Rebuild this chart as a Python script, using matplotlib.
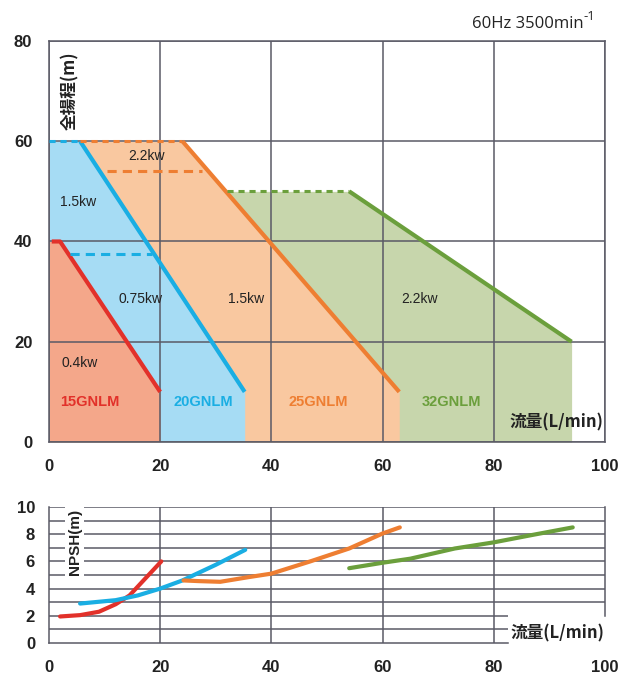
"""Performance range and NPSH chart for GNLM pumps (60Hz)."""

import matplotlib
matplotlib.use('Agg')
import matplotlib.pyplot as plt

# ---- data -------------------------------------------------------------
models = ['15GNLM', '20GNLM', '25GNLM', '32GNLM']
shut_q = [2.0, 5.6, 24.0, 54.0]      # flow where flat top ends (L/min)
shut_h = [40, 60, 60, 50]            # max head (m)
max_q = [20.0, 35.2, 63.0, 94.0]     # max flow (L/min)
end_h = [10, 10, 10, 20]             # head at max flow (m)
top_dash_q = [None, 0.0, 5.6, 32.0]  # dashed part of flat top starts here

# motor split lines inside ranges (head, q from, q to)
split_h = [37.5, 54.0]
split_q0 = [3.8, 10.5]
split_q1 = [18.5, 27.5]

kw_text = ['0.4kw', '1.5kw', '0.75kw', '2.2kw', '1.5kw', '2.2kw']

# NPSH curves
npsh_q15 = [2, 5.6, 9, 12, 14.5, 17, 20.2]
npsh_h15 = [1.95, 2.05, 2.3, 2.85, 3.5, 4.6, 6.0]
npsh_q20 = [5.6, 12, 16, 20, 24, 30, 35.3]
npsh_h20 = [2.9, 3.15, 3.5, 4.0, 4.6, 5.75, 6.85]
npsh_q25 = [24.2, 27, 30.8, 36, 40, 47, 54, 60, 63.1]
npsh_h25 = [4.6, 4.55, 4.5, 4.85, 5.1, 6.0, 6.95, 8.05, 8.5]
npsh_q32 = [54, 60, 65, 73, 80, 87, 94.2]
npsh_h32 = [5.5, 5.9, 6.2, 6.95, 7.4, 7.95, 8.5]

# ---- style ------------------------------------------------------------
LINE_C = ['#e2312a', '#1aaee3', '#ee7e32', '#6b9f3c']
FILL_C = ['#f4a78a', '#a6dcf4', '#f9c8a0', '#c7d6ac']
GRID_C = '#5a5a66'
CJK = ['Noto Sans CJK JP', 'DejaVu Sans']
plt.rcParams['font.family'] = ['Liberation Sans', 'DejaVu Sans']

fig = plt.figure(figsize=(6.36, 6.75), dpi=100)
ax = fig.add_axes([0.0770, 0.3452, 0.8742, 0.5941])
ax2 = fig.add_axes([0.0770, 0.0474, 0.8742, 0.2015])

# ---- top: head range --------------------------------------------------
ax.set_xlim(0, 100)
ax.set_ylim(0, 80)
# draw back to front so the smaller ranges sit on top
for i in reversed(range(len(models))):
    ax.fill_between([0, shut_q[i], max_q[i]], [shut_h[i], shut_h[i], end_h[i]],
                    0, color=FILL_C[i], lw=0, zorder=1)
for i in range(len(models)):
    if top_dash_q[i] is None:
        ax.plot([0.5, shut_q[i], max_q[i]], [shut_h[i], shut_h[i], end_h[i]],
                color=LINE_C[i], lw=3, solid_capstyle='butt', zorder=4)
    else:
        ax.plot([shut_q[i], max_q[i]], [shut_h[i], end_h[i]],
                color=LINE_C[i], lw=3, solid_capstyle='butt', zorder=4)
        ax.plot([top_dash_q[i], shut_q[i]], [shut_h[i], shut_h[i]],
                color=LINE_C[i], lw=2.2, ls=(0, (2, 1.6)), zorder=4)
for h, q0, q1, c in zip(split_h, split_q0, split_q1, [LINE_C[1], LINE_C[2]]):
    ax.plot([q0, q1], [h, h], color=c, lw=2.2, ls=(0, (3, 2)), zorder=4)

ax.set_xticks(range(0, 101, 20))
ax.set_yticks(range(0, 81, 20))
ax.grid(True, color=GRID_C, lw=1.1)
ax.set_axisbelow(False)
for sp in ax.spines.values():
    sp.set_color(GRID_C)
    sp.set_linewidth(1.1)
ax.tick_params(length=0, labelsize=12, pad=12)
for lab in ax.get_xticklabels() + ax.get_yticklabels():
    lab.set_fontweight('bold')
    lab.set_color('#222222')

kw_pos = [(5.6, 15.7), (5.2, 47.8), (16.4, 28.5), (17.6, 57.0), (35.4, 28.5), (66.7, 28.5)]
for t, (x, y) in zip(kw_text, kw_pos):
    ax.text(x, y, t, fontsize=10, color='#222222', ha='center', va='center', zorder=5)

name_x = [7.3, 27.7, 48.5, 72.3]
for i, m in enumerate(models):
    ax.text(name_x[i], 8, m, fontsize=10.5, fontweight='bold', color=LINE_C[i],
            ha='center', va='center', zorder=5)

ax.text(3.8, 70, '全揚程(m)', rotation=90, fontsize=12, fontweight='bold',
        family=CJK, color='#222222', ha='center', va='center', zorder=5)
ax.text(91.2, 3.8, '流量(L/min)', fontsize=12, fontweight='bold',
        family=CJK, color='#222222', ha='center', va='center', zorder=5)

t = fig.text(0.742, 0.9585, '60Hz 3500min', fontsize=12, family='Open Sans',
             color='#222222', va='baseline')
ax.annotate('-1', xy=(1.0, 0.95), xycoords=t, fontsize=9.5, family='Open Sans',
            color='#222222', ha='left', va='center')

# ---- bottom: NPSH -----------------------------------------------------
ax2.set_xlim(0, 100)
ax2.set_ylim(0, 10)
for qs, hs, c in zip([npsh_q15, npsh_q20, npsh_q25, npsh_q32],
                     [npsh_h15, npsh_h20, npsh_h25, npsh_h32], LINE_C):
    ax2.plot(qs, hs, color=c, lw=3, solid_capstyle='round',
             solid_joinstyle='round', zorder=4)

# grid drawn by hand: the lowest lines stop short of the axis label
ax2.hlines(range(3, 11), 0, 100, color=GRID_C, lw=1.1, zorder=1.5)
ax2.hlines([1, 2], 0, 82.5, color=GRID_C, lw=1.1, zorder=1.5)
ax2.vlines(range(20, 81, 20), 0, 10, color=GRID_C, lw=1.1, zorder=1.5)
ax2.spines['top'].set_visible(False)
ax2.spines['right'].set_bounds(2, 10)
ax2.spines['bottom'].set_bounds(0, 82.5)
for sp in ax2.spines.values():
    sp.set_color(GRID_C)
    sp.set_linewidth(1.1)
ax2.set_xticks(range(0, 101, 20))
ax2.set_yticks(range(0, 11, 2))
ax2.tick_params(length=0, labelsize=12, pad=12)
ax2.tick_params(axis='y', pad=10)
for lab in ax2.get_xticklabels() + ax2.get_yticklabels():
    lab.set_fontweight('bold')
    lab.set_color('#222222')

ax2.text(4.6, 7.4, 'NPSH(m)', rotation=90, fontsize=11, fontweight='bold',
         color='#222222', ha='center', va='center', zorder=5,
         bbox=dict(facecolor='white', edgecolor='none', pad=2))
ax2.text(91.5, 0.7, '流量(L/min)', fontsize=12, fontweight='bold',
         family=CJK, color='#222222', ha='center', va='center', zorder=5)

fig.savefig('out.png', dpi=100)
